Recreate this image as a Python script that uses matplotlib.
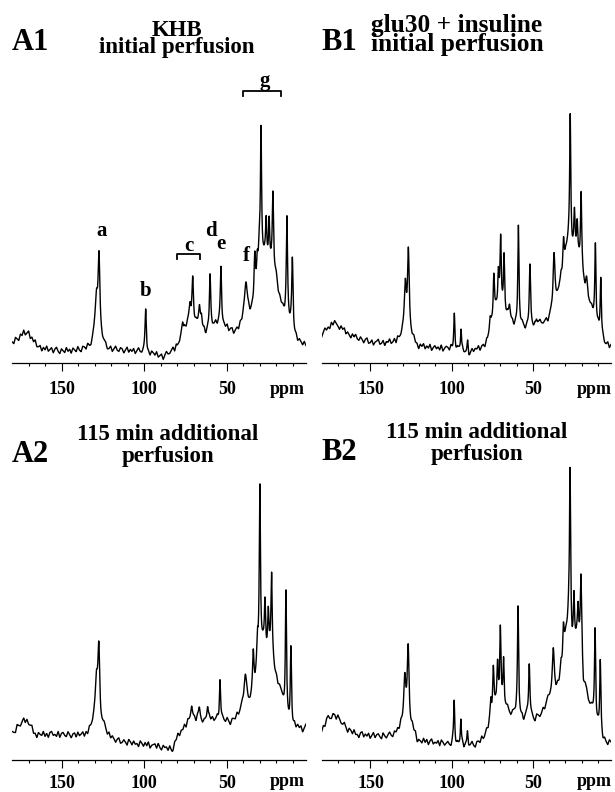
import numpy as np
import matplotlib
matplotlib.use("Agg")
from matplotlib import pyplot as plt

plt.rcParams['font.family'] = ['Liberation Serif', 'DejaVu Serif']
plt.rcParams['font.weight'] = 'bold'

# ---- data (ppm, height in px above the axis line) ----

# broad baseline / envelope knots
BASE_A1_PPM = [180, 177, 173, 170, 167, 164, 160, 150, 140, 133, 130, 126, 123, 115, 105, 100, 95, 88, 84, 80, 77, 72, 66, 63, 58, 55, 50, 46, 43, 40, 37, 35, 33, 31, 29, 26, 24, 22, 20, 18, 16, 14, 12, 10, 8, 6, 3, 2]
BASE_A1_H = [20, 24, 30, 30, 22, 16, 14, 12, 13, 15, 22, 22, 14, 13, 12, 11, 9, 6, 12, 16, 30, 40, 40, 30, 38, 40, 36, 30, 34, 40, 45, 50, 60, 80, 100, 105, 100, 90, 75, 62, 55, 45, 40, 30, 25, 22, 18, 18]

BASE_B1_PPM = [180, 176, 173, 170, 166, 160, 150, 140, 133, 130, 124, 121, 110, 100, 95, 89, 86, 80, 78, 76, 73, 70, 66, 62, 58, 55, 52, 49, 45, 41, 38, 36, 34, 32, 30, 28, 26, 24, 22, 20, 19, 17, 15, 13, 11, 9, 7, 5, 2]
BASE_B1_H = [28, 36, 40, 38, 32, 26, 21, 20, 22, 26, 24, 16, 15, 14, 13, 8, 14, 16, 22, 35, 50, 55, 45, 38, 40, 35, 38, 36, 40, 42, 50, 62, 70, 80, 105, 125, 115, 110, 105, 90, 80, 68, 58, 50, 40, 30, 24, 17, 18]

BASE_A2_PPM = [180, 176, 172, 169, 166, 160, 150, 140, 134, 131, 124, 121, 115, 105, 95, 88, 83, 80, 76, 72, 68, 64, 60, 56, 52, 48, 45, 42, 40, 37, 35, 33, 31, 30, 28, 26, 24, 22, 20, 18, 16, 14, 12, 10, 7, 4, 2]
BASE_A2_H = [26, 34, 40, 34, 25, 25, 25, 24, 26, 34, 32, 22, 18, 16, 14, 12, 10, 22, 32, 40, 40, 37, 40, 40, 40, 37, 40, 47, 55, 55, 60, 75, 90, 115, 115, 110, 108, 95, 80, 73, 58, 45, 38, 32, 33, 30, 32]

BASE_B2_PPM = [180, 177, 172, 168, 164, 158, 150, 140, 134, 131, 124, 121, 110, 100, 90, 85, 80, 77, 73, 70, 66, 63, 60, 56, 53, 49, 45, 42, 39, 36, 34, 32, 30, 28, 26, 24, 22, 20, 19, 17, 15, 13, 11, 9, 7, 4, 2]
BASE_B2_H = [28, 40, 45, 38, 30, 25, 24, 23, 26, 32, 30, 18, 17, 15, 14, 15, 22, 35, 55, 55, 50, 45, 48, 40, 45, 40, 45, 55, 65, 70, 72, 90, 120, 145, 115, 120, 125, 105, 75, 68, 55, 48, 38, 30, 18, 16, 20]

# sharp resonances: position, amplitude, half width
PK_A1_PPM = [128.9, 127.4, 99.1, 76.7, 72.3, 70.6, 66.5, 65.3, 60.1, 53.5, 38.3, 33.0, 31.5, 30.3, 29.2, 26.1, 24.3, 22.0, 20.0, 13.5, 10.2]
PK_A1_AMP = [42, 75, 42, 12, 18, 42, 13, 10, 52, 55, 38, 42, 25, 22, 132, 36, 40, 80, 10, 100, 72]
PK_A1_HW = [1.0, 0.65, 0.45, 0.5, 0.7, 0.55, 0.5, 0.5, 0.45, 0.45, 1.1, 0.5, 0.5, 0.6, 0.42, 0.4, 0.4, 0.45, 0.9, 0.45, 0.45]

PK_B1_PPM = [128.6, 126.7, 98.4, 94.3, 90.2, 76.4, 74.1, 71.3, 69.9, 67.8, 64.5, 59.0, 51.9, 47.8, 37.1, 32.8, 31.2, 27.1, 24.5, 22.8, 20.4, 17.1, 11.6, 8.3]
PK_B1_AMP = [50, 83, 36, 22, 13, 14, 42, 36, 70, 55, 16, 96, 58, 8, 52, 14, 32, 126, 36, 32, 76, 14, 76, 57]
PK_B1_HW = [0.8, 0.65, 0.4, 0.35, 0.35, 0.5, 0.45, 0.45, 0.45, 0.4, 0.6, 0.4, 0.45, 0.5, 0.7, 0.6, 0.5, 0.4, 0.4, 0.4, 0.45, 0.7, 0.4, 0.4]

PK_A2_PPM = [129.0, 127.5, 71.3, 66.6, 61.6, 54.1, 38.7, 33.9, 31.3, 29.9, 26.8, 24.8, 22.8, 14.1, 11.1]
PK_A2_AMP = [45, 72, 14, 14, 16, 40, 28, 38, 28, 156, 42, 37, 86, 120, 75]
PK_A2_HW = [0.9, 0.65, 0.6, 0.6, 0.5, 0.4, 1.0, 0.5, 0.5, 0.4, 0.4, 0.4, 0.45, 0.4, 0.4]

PK_B2_PPM = [128.9, 126.8, 98.5, 94.4, 90.3, 75.9, 74.4, 71.8, 70.1, 68.1, 59.2, 52.3, 37.5, 32.8, 31.3, 27.2, 24.8, 22.3, 20.5, 11.8, 8.6]
PK_B2_AMP = [50, 77, 43, 26, 13, 18, 42, 36, 75, 46, 105, 52, 42, 14, 32, 156, 42, 28, 72, 86, 72]
PK_B2_HW = [0.8, 0.65, 0.4, 0.35, 0.35, 0.4, 0.45, 0.45, 0.45, 0.4, 0.4, 0.45, 0.7, 0.6, 0.5, 0.4, 0.4, 0.4, 0.45, 0.4, 0.4]

# baseline jitter, one value per ppm from 180 down to 2
NOISE_A1 = [1, -2, 3, 0, -3, 2, -1, 3, -2, 0, 2, -3, 1, -1, 3, -2, 0, 2, -3, 1,
            -1, 3, -2, 0, 2, -3, 1, 3, -1, -3, 2, 0, -2, 3, -1, 1, -3, 2, 0, -2,
            3, -1, -3, 2, 1, -2, 3, 0, -3, 1, 2, -1, -3, 3, 0, -2, 1, 3, -2, -1,
            2, -3, 0, 3, -1, -2, 2, 1, -3, 0, 3, -2, 1, -1, 2, -3, 0, 3, -1, -2,
            1, 3, -2, 0, -3, 2, 1, -1, 3, -2, 0, 2, -3, 1, 3, -1, -2, 0, 2, -3,
            3, 0, -2, 1, -3, 2, -1, 3, 0, -2, 2, -3, 1, 0, 3, -1, -2, 2, -3, 1,
            0, 3, -2, -1, 2, -3, 1, 3, -1, 0, -2, 2, -3, 1, 3, -2, 0, 1, -3, 2,
            -1, 3, 0, -2, 2, -3, 1, -1, 3, -2, 0, 2, -3, 1, 3, -1, -2, 0, 2, -3,
            1, 2, -2, 3, -1, 0, -3, 2, 1, -2, 3, 0, -1, 2, -3, 1, 0, -2, 3, -1]
NOISE_B1 = [-2, 1, 3, -1, 0, -3, 2, -2, 3, 1, -1, -3, 2, 0, 3, -2, 1, -1, -3, 2,
            0, 3, -1, -2, 2, 0, -3, 1, 3, -2, -1, 2, -3, 0, 1, 3, -2, -1, 2, -3,
            1, 0, 3, -2, -1, 2, -3, 3, 0, -1, 2, -2, 1, -3, 3, 0, -2, 2, -1, 1,
            -3, 2, 0, 3, -2, 1, -1, 3, -3, 0, 2, -1, 1, -2, 3, -3, 0, 2, 1, -2,
            3, -1, 0, -3, 2, 1, -2, 3, -1, 0, 2, -3, 1, 3, -2, 0, -1, 2, -3, 1,
            2, -2, 3, 0, -3, 1, -1, 2, 3, -2, 0, -3, 2, 1, -1, 3, -2, 0, 2, -3,
            1, -1, 3, -2, 2, 0, -3, 1, -1, 3, 0, -2, 2, -3, 1, 3, -1, -2, 0, 2,
            -3, 1, 2, -1, 3, -2, 0, 1, -3, 2, -1, 3, 0, -2, 1, -3, 2, 3, -1, 0,
            -2, 2, 1, -3, 3, -1, 0, 2, -2, 1, -3, 3, 0, -1, 2, -2, 1, 3, -3, 0]
NOISE_A2 = [2, -1, -3, 3, 0, -2, 1, 3, -3, 2, -1, 0, 3, -2, 1, -3, 2, 0, -1, 3,
            -2, 1, -3, 2, 3, -1, 0, -2, 3, -3, 1, 2, -1, -2, 3, 0, -3, 1, 2, -2,
            3, -1, 0, 2, -3, 1, -2, 3, 0, -1, 2, -3, 3, 1, -2, 0, 2, -1, -3, 3,
            -1, 2, 0, -3, 1, 3, -2, -1, 2, 0, -3, 3, 1, -2, 2, -1, 0, -3, 3, 1,
            -2, 2, -1, 3, -3, 0, 1, 2, -2, 3, -1, -3, 2, 0, 1, -2, 3, -1, -3, 2,
            0, 3, -2, 1, -1, 2, -3, 3, 0, -2, 1, 2, -3, 3, -1, 0, -2, 2, 1, -3,
            3, -1, 2, -2, 0, 3, -3, 1, 2, -1, -2, 3, 0, -3, 2, 1, -1, 3, -2, 0,
            2, -3, 1, 3, -1, -2, 2, 0, -3, 3, 1, -1, -2, 2, 3, -3, 0, 1, -2, 2,
            -1, 3, -3, 0, 2, 1, -2, 3, -1, -3, 2, 0, 3, -2, 1, -1, 2, -3, 0, 3]
NOISE_B2 = [0, 2, -3, 1, 3, -1, -2, 2, 0, -3, 3, 1, -2, -1, 3, 0, -3, 2, 1, -2,
            3, -1, 0, -3, 2, 3, -2, 1, -1, 2, -3, 0, 3, -2, 1, 2, -1, -3, 3, 0,
            -2, 1, 3, -1, -3, 2, 0, 2, -2, 3, -1, -3, 1, 3, 0, -2, 2, -1, 3, -3,
            1, 0, -2, 3, -1, 2, -3, 1, 3, -2, 0, -1, 2, -3, 3, 1, -2, 0, 2, -1,
            -3, 3, 1, -2, 2, 0, -1, 3, -3, 1, 2, -2, 0, 3, -1, -3, 2, 1, -2, 3,
            -1, 0, 2, -3, 3, -2, 1, 0, -1, 3, -3, 2, 1, -2, 0, 3, -1, -3, 2, 1,
            -2, 3, 0, -1, 2, -3, 1, 3, -2, 0, 2, -1, -3, 3, 1, -2, 0, 2, -3, 1,
            3, -1, -2, 2, 0, -3, 3, 1, -1, -2, 2, 3, -3, 0, 1, -2, 3, -1, 2, -3,
            0, 2, -2, 3, 1, -3, -1, 2, 0, 3, -2, 1, -3, 2, -1, 3, 0, -2, 1, -3]

MAJOR_TICKS = [150, 100, 50]
MINOR_TICKS = [170, 160, 140, 130, 120, 110, 90, 80, 70, 60, 40, 30, 20, 10]

# peak letters in A1 (ppm, height, letter) and brackets (ppm from, ppm to, height)
A1_LETTERS = [(125.8, 127, 'a'), (99.1, 67, 'b'), (72.8, 112, 'c'), (59.6, 127, 'd'),
              (53.5, 114, 'e'), (38.2, 102, 'f'), (27.0, 277, 'g')]
A1_BRACKETS = [(80.3, 66.2, 109), (39.9, 17.3, 272)]

W, H = 615, 792
fig = plt.figure(figsize=(W / 100, H / 100), dpi=100)


def spectrum(ppm, base_ppm, base_h, pk_ppm, pk_amp, pk_hw, noise):
    y = np.interp(ppm, base_ppm[::-1], base_h[::-1])
    n_ppm = np.linspace(180, 2, len(noise))
    y = y + np.interp(ppm, n_ppm[::-1], noise[::-1])
    for c, a, w in zip(pk_ppm, pk_amp, pk_hw):
        y = y + a / (1 + ((ppm - c) / w) ** 2)
    return y


def panel(x0, x1, y_axis, y_top, base_ppm, base_h, pk_ppm, pk_amp, pk_hw, noise, pad):
    ax = fig.add_axes([x0 / W, 1 - y_axis / H, (x1 - x0) / W, (y_axis - y_top) / H])
    ppm = np.linspace(180, 2, 4000)
    ax.plot(ppm, spectrum(ppm, np.array(base_ppm), np.array(base_h),
                          pk_ppm, pk_amp, pk_hw, np.array(noise, dtype=float)),
            color='black', lw=1.0)
    ax.set_xlim(180, 2)
    ax.set_ylim(0, y_axis - y_top)
    for s in ['top', 'left', 'right']:
        ax.spines[s].set_visible(False)
    ax.spines['bottom'].set_linewidth(0.9)
    ax.set_yticks([])
    ax.set_xticks(MAJOR_TICKS)
    ax.set_xticklabels([str(t) for t in MAJOR_TICKS])
    ax.set_xticks(MINOR_TICKS, minor=True)
    ax.tick_params(axis='x', which='major', direction='out', length=6, width=0.8,
                   labelsize=13, pad=pad)
    ax.tick_params(axis='x', which='minor', direction='out', length=2.3, width=0.8)
    ax.patch.set_visible(False)
    return ax


def ftext(x, y, s, size, ha='center', va='baseline', ls=1.2):
    fig.text(x / W, 1 - y / H, s, fontsize=size, ha=ha, va=va, fontweight='bold',
             multialignment='center', linespacing=ls)


axA1 = panel(12.2, 305.9, 363, 60, BASE_A1_PPM, BASE_A1_H, PK_A1_PPM, PK_A1_AMP, PK_A1_HW, NOISE_A1, 7)
axB1 = panel(321.7, 611, 363, 60, BASE_B1_PPM, BASE_B1_H, PK_B1_PPM, PK_B1_AMP, PK_B1_HW, NOISE_B1, 7)
axA2 = panel(12.2, 305.9, 759.5, 460, BASE_A2_PPM, BASE_A2_H, PK_A2_PPM, PK_A2_AMP, PK_A2_HW, NOISE_A2, 5)
axB2 = panel(321.7, 611, 759.5, 460, BASE_B2_PPM, BASE_B2_H, PK_B2_PPM, PK_B2_AMP, PK_B2_HW, NOISE_B2, 5)

for x, y, s in A1_LETTERS:
    axA1.text(x, y, s, fontsize=15, ha='center', va='baseline', fontweight='bold')
for p0, p1, h in A1_BRACKETS:
    axA1.plot([p0, p0, p1, p1], [h - 5, h, h, h - 5], color='black', lw=1.3, clip_on=False)

# panel labels and two-line titles
ftext(12, 50, 'A1', 22, ha='left')
ftext(177, 19.5, 'KHB\ninitial perfusion', 16.5, va='top', ls=0.8)

ftext(321, 50, 'B1', 22, ha='left')
ftext(457, 13.6, 'glu30 + insuline\ninitial perfusion', 18.3, va='top', ls=0.8)

ftext(12, 462, 'A2', 22, ha='left')
ftext(168, 424.4, '115 min additional\nperfusion', 16.5, va='top', ls=1.06)

ftext(321, 460, 'B2', 22, ha='left')
ftext(477, 422.4, '115 min additional\nperfusion', 16.5, va='top', ls=1.06)

# ppm unit next to tick labels
ftext(287, 394, 'ppm', 13)
ftext(594, 394, 'ppm', 13)
ftext(287, 786.5, 'ppm', 13)
ftext(594, 786.5, 'ppm', 13)

fig.savefig('out.png', dpi=100)
